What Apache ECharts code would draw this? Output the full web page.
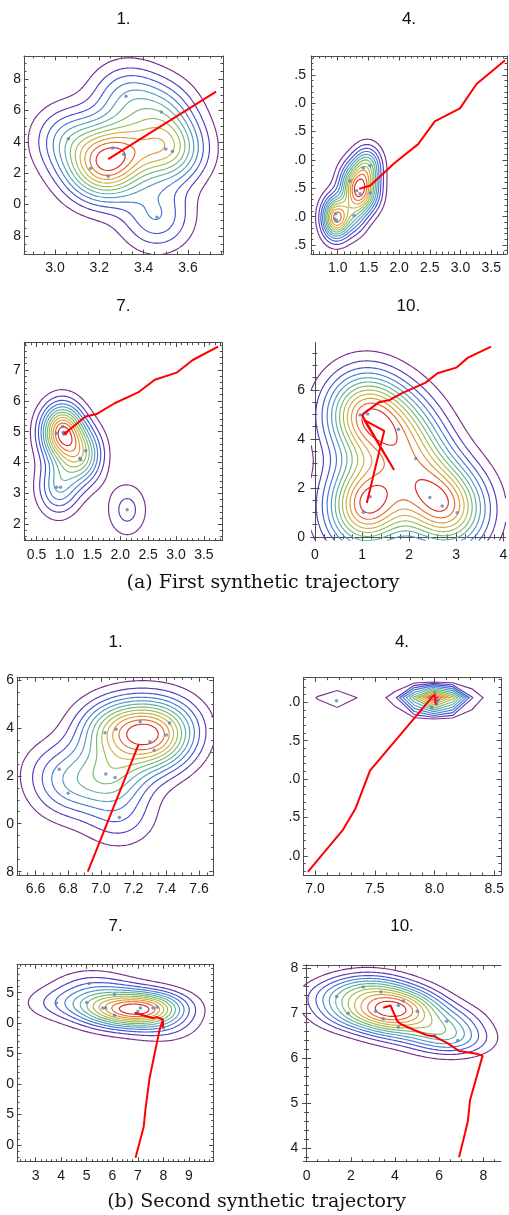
<!DOCTYPE html>
<html><head><meta charset="utf-8">
<script src="https://cdn.jsdelivr.net/npm/echarts@6/dist/echarts.min.js"></script>
<style>
html,body{margin:0;padding:0;background:#fff;}
body{width:509px;height:1215px;position:relative;overflow:hidden;}
.pane{position:absolute;overflow:hidden;}
</style></head><body>
<div id="bg" class="pane" style="left:0;top:0;width:509px;height:1215px"></div>
<script>
// ---------------- DATA ----------------
const panelTitles = ['1.', '4.', '7.', '10.', '1.', '4.', '7.', '10.'];
const captions = ['(a) First synthetic trajectory', '(b) Second synthetic trajectory'];

// particles: [x, y, weight]
const a1Particles = [[3.32,7.69,1],[3.48,7.59,1],[3.06,7.42,1],[3.26,7.36,1],[3.31,7.32,1],[3.50,7.355,1],[3.53,7.34,1],[3.16,7.23,1],[3.24,7.18,1],[3.46,6.92,1]];
const a1Path = [[3.727,7.72],[3.24,7.29]];
const a1XTicks = [3.0,3.2,3.4,3.6];
const a1YTicks = [6.8,7.0,7.2,7.4,7.6,7.8];

const a2Particles = [[1.417,5.857,1],[1.526,5.898,1],[1.2,5.634,1],[1.309,5.458,1],[1.363,5.405,1],[1.526,5.417,1],[0.967,5.053,1],[0.956,4.959,1],[0.984,4.93,1],[1.265,5.023,1]];
const a2Path = [[3.725,7.76],[3.26,7.34],[2.99,6.91],[2.58,6.68],[2.31,6.28],[1.93,5.95],[1.53,5.55],[1.35,5.49]];
const a2XTicks = [1.0,1.5,2.0,2.5,3.0,3.5];
const a2YTicks = [4.5,5.0,5.5,6.0,6.5,7.0,7.5];

const a3Particles = [[0.966,5.165,1],[0.858,4.95,1],[0.977,4.97,2],[0.99,4.92,1],[1.38,4.38,1],[1.276,4.14,1],[1.29,4.09,1],[0.858,3.2,1],[0.93,3.2,1],[2.124,2.47,1]];
const a3Path = [[3.755,7.75],[3.3,7.32],[3.01,6.91],[2.62,6.68],[2.32,6.27],[1.9,5.92],[1.575,5.57],[1.38,5.49],[1.01,4.95],[1.06,4.99],[0.99,4.97],[1.04,4.9]];
const a3XTicks = [0.5,1.0,1.5,2.0,2.5,3.0,3.5];
const a3YTicks = [2,3,4,5,6,7];

const a4Particles = [[0.955,4.98,1],[1.12,5.02,1],[1.77,4.39,1],[2.14,3.2,1],[2.44,1.61,0.85],[2.70,1.26,0.85],[3.02,0.98,0.85],[1.17,1.64,1.25],[1.026,1.0,1.25]];
const a4Path = [[3.74,7.77],[3.25,7.32],[3.0,6.91],[2.6,6.68],[2.35,6.3],[1.84,5.86],[1.59,5.59],[1.36,5.5],[1.0,4.98],[1.68,2.73],[1.04,4.78],[1.47,4.33],[1.1,1.38]];
const a4XTicks = [0,1,2,3,4];
const a4YTicks = [0,2,4,6];

const b1Particles = [[6.745,4.227,1],[6.8,4.127,1],[7.025,4.38,1],[7.093,4.394,1.5],[7.03,4.207,1],[7.087,4.193,1.3],[7.24,4.426,1.5],[7.30,4.342,1.2],[7.326,4.307,1],[7.42,4.42,1],[7.40,4.37,1],[7.113,4.026,1]];
const b1Path = [[6.92,3.80],[7.23,4.33]];
const b1XTicks = [6.6,6.8,7.0,7.2,7.4,7.6];
const b1YTicks = [3.8,4.0,4.2,4.4,4.6];

const b2Particles = [[8.003,6.125,1],[7.967,6.065,1],[8.017,6.02,1],[8.03,6.03,1],[8.017,5.98,1],[7.976,5.935,1],[7.89,5.90,1],[7.18,6.02,0.6]];
const b2Path = [[6.94,3.79],[7.23,4.33],[7.34,4.62],[7.46,5.11],[7.976,6.06],[8.0,6.1],[8.01,5.97]];
const b2XTicks = [7.0,7.5,8.0,8.5];
const b2YTicks = [4.0,4.5,5.0,5.5,6.0];

const b3Particles = [[3.81,6.33,1],[5.0,6.34,1],[5.09,6.65,1],[6.09,6.475,1],[5.63,6.25,1],[5.74,6.25,1],[6.09,6.13,1.5],[7.1,6.25,2],[7.0,6.19,2],[7.59,6.25,1.5],[7.75,6.26,1.5],[8.01,5.92,1]];
const b3Path = [[6.91,3.79],[7.23,4.30],[7.30,4.59],[7.46,5.10],[7.85,5.89],[7.98,6.05],[7.99,5.93],[7.98,6.06],[7.74,6.1],[7.6,6.08],[6.87,6.17]];
const b3XTicks = [3,4,5,6,7,8,9];
const b3YTicks = [4.0,4.5,5.0,5.5,6.0,6.5];

const b4Particles = [[1.36,7.37,1],[2.56,7.58,1],[1.88,7.0,1],[3.37,7.47,1],[3.12,7.04,1],[3.47,6.876,1],[4.15,7.17,1],[4.38,7.27,1],[5.01,7.04,1],[4.15,6.69,1],[5.81,6.5,1],[6.34,6.82,1],[6.84,6.39,1]];
const b4Path = [[6.9,3.8],[7.17,4.33],[7.3,4.6],[7.4,5.07],[7.93,5.99],[7.97,6.05],[7.7,6.1],[6.9,6.16],[6.4,6.33],[5.8,6.48],[5.45,6.51],[4.9,6.62],[4.25,6.76],[4.1,6.83],[3.8,7.17],[3.47,7.12]];
const b4XTicks = [0,2,4,6,8];
const b4YTicks = [4,5,6,7,8];

// ---------------- STYLE / LAYOUT ----------------
const FRAME = '#4d4d4d';
const LABEL = '#1a1a1a';
const RED = '#ff0000';
const DOT = '#5e81b5';
const NLEVELS = 12;
const contourStops = [[0,[123,45,142]],[0.1,[83,57,194]],[0.2,[63,92,214]],[0.32,[76,144,207]],[0.45,[96,176,160]],[0.55,[120,184,112]],[0.65,[168,188,80]],[0.75,[208,178,62]],[0.85,[228,142,50]],[0.93,[226,96,42]],[1,[218,42,36]]];

const panelDefs = [
  {parts:a1Particles, path:a1Path, xt:a1XTicks, yt:a1YTicks, xr:[2.86,3.758], yr:[6.685,7.947], xd:1, yd:1, xm:0.05, ym:0.05, box:[13,30,240,260], frame:[24,56,223,254], bw:[1,1], ym0:3, title:[123.5,19]},
  {parts:a2Particles, path:a2Path, xt:a2XTicks, yt:a2YTicks, xr:[0.565,3.756], yr:[4.342,7.834], xd:1, yd:1, xm:0.1, ym:0.1, box:[295,30,214,260], frame:[311,56,507,254], bw:[1,1], ym0:5, title:[409,19]},
  {parts:a3Particles, path:a3Path, xt:a3XTicks, yt:a3YTicks, xr:[0.28,3.83], yr:[1.47,7.88], xd:1, yd:0, xm:0.1, ym:0.2, box:[0,320,250,260], frame:[24.3,342.7,222.3,540.7], bw:[1,1], ym0:3.5, title:[123.3,306.7]},
  {parts:a4Particles, path:a4Path, xt:a4XTicks, yt:a4YTicks, xr:[-0.085,4.05], yr:[-0.16,7.93], xd:0, yd:0, xm:0.2, ym:0.5, box:[258,320,251,260], frame:[311,342.7,505.7,540.7], bw:[1.05,1], ym0:6, title:[408.3,306]},
  {parts:b1Particles, path:b1Path, xt:b1XTicks, yt:b1YTicks, xr:[6.487,7.69], yr:[3.786,4.611], xd:1, yd:1, xm:0.05, ym:0.05, box:[6.3,660,245,240], frame:[17.3,677.3,214,875], h:[0.155,0.088], ym0:3, title:[115.7,642.7]},
  {parts:b2Particles, path:b2Path, xt:b2XTicks, yt:b2YTicks, xr:[6.902,8.556], yr:[3.75,6.32], xd:1, yd:1, xm:0.1, ym:0.1, box:[289,660,220,240], frame:[303.3,677.7,501,875], h:[0.16,0.05], ym0:3, title:[402,642.7],
    gridX:[6.864,7.025,7.186,7.347,7.508,7.669,7.83,7.991,8.152,8.313,8.474,8.635],
    gridY:[3.66,3.96,4.26,4.56,4.86,5.16,5.46,5.76,6.06,6.28,6.5]},
  {parts:b3Particles, path:b3Path, xt:b3XTicks, yt:b3YTicks, xr:[2.27,9.97], yr:[3.726,6.966], xd:0, yd:1, xm:0.2, ym:0.1, box:[6.3,945,245,240], frame:[17.3,964.3,214,1161.7], h:[1.0,0.19], ym0:3, title:[115.7,926.7]},
  {parts:b4Particles, path:b4Path, xt:b4XTicks, yt:b4YTicks, xr:[-0.15,8.8], yr:[3.70,8.07], xd:0, yd:0, xm:0.5, ym:0.2, box:[258,945,251,240], frame:[303.3,965,501,1161.7], bw:[1.05,1.1], ym0:5, title:[402,926.7]}
];

// ---------------- helpers ----------------
function rampColor(t){
  for(let k=0;k<contourStops.length-1;k++){
    const [t0,c0]=contourStops[k],[t1,c1]=contourStops[k+1];
    if(t<=t1){const u=(t-t0)/(t1-t0);return 'rgb('+c0.map((v,i)=>Math.round(v+(c1[i]-v)*u)).join(',')+')';}
  }
  return 'rgb('+contourStops[contourStops.length-1][1].join(',')+')';
}
const levelColors = Array.from({length:NLEVELS},(_,i)=>rampColor(i/(NLEVELS-1)));

function bandwidth(parts, scale){
  let W=0,mx=0,my=0;
  parts.forEach(p=>{W+=p[2];mx+=p[2]*p[0];my+=p[2]*p[1];});
  mx/=W;my/=W;let vx=0,vy=0;
  parts.forEach(p=>{vx+=p[2]*(p[0]-mx)**2;vy+=p[2]*(p[1]-my)**2;});
  vx/=(W-1);vy/=(W-1);
  const f=Math.pow(W,-1/6);
  return [Math.sqrt(vx)*f*scale[0],Math.sqrt(vy)*f*scale[1]];
}
function density(parts,h,x,y){
  let s=0;
  for(const p of parts){const dx=(x-p[0])/h[0],dy=(y-p[1])/h[1];s+=p[2]*Math.exp(-0.5*(dx*dx+dy*dy));}
  return s;
}
function contour(xs,ys,g,L){
  const segs=[];const nx=xs.length,ny=ys.length;
  const ip=(a,b,va,vb)=>a+(b-a)*((L-va)/(vb-va));
  for(let j=0;j<ny-1;j++)for(let i=0;i<nx-1;i++){
    const v0=g[j][i],v1=g[j][i+1],v2=g[j+1][i+1],v3=g[j+1][i];
    const c=(v0>=L?1:0)|(v1>=L?2:0)|(v2>=L?4:0)|(v3>=L?8:0);
    if(c===0||c===15)continue;
    const x0=xs[i],x1=xs[i+1],y0=ys[j],y1=ys[j+1];
    const E=[
      ()=>['h'+i+'_'+j,[ip(x0,x1,v0,v1),y0]],
      ()=>['v'+(i+1)+'_'+j,[x1,ip(y0,y1,v1,v2)]],
      ()=>['h'+i+'_'+(j+1),[ip(x0,x1,v3,v2),y1]],
      ()=>['v'+i+'_'+j,[x0,ip(y0,y1,v0,v3)]]
    ];
    let pairs;const m=(v0+v1+v2+v3)/4;
    switch(c){
      case 1:pairs=[[3,0]];break;case 2:pairs=[[0,1]];break;case 3:pairs=[[3,1]];break;
      case 4:pairs=[[1,2]];break;case 6:pairs=[[0,2]];break;case 7:pairs=[[3,2]];break;
      case 8:pairs=[[2,3]];break;case 9:pairs=[[0,2]];break;case 11:pairs=[[1,2]];break;
      case 12:pairs=[[3,1]];break;case 13:pairs=[[0,1]];break;case 14:pairs=[[3,0]];break;
      case 5:pairs=m>=L?[[0,1],[2,3]]:[[3,0],[1,2]];break;
      case 10:pairs=m>=L?[[3,0],[1,2]]:[[0,1],[2,3]];break;
    }
    pairs.forEach(([a,b])=>segs.push([E[a](),E[b]()]));
  }
  const map=new Map();
  segs.forEach((s,k)=>{for(const e of [0,1]){const key=s[e][0];if(!map.has(key))map.set(key,[]);map.get(key).push(k);}});
  const used=new Array(segs.length).fill(false);const lines=[];
  for(let k=0;k<segs.length;k++){
    if(used[k])continue;used[k]=true;
    const pts=[segs[k][0][1],segs[k][1][1]];
    for(const dir of [1,0]){
      let key=segs[k][dir][0];
      while(true){
        const cand=(map.get(key)||[]).find(q=>!used[q]);
        if(cand===undefined)break;used[cand]=true;
        const s=segs[cand];const nxt=s[0][0]===key?s[1]:s[0];
        if(dir===1)pts.push(nxt[1]);else pts.unshift(nxt[1]);
        key=nxt[0];
      }
    }
    lines.push(pts);
  }
  return lines;
}
function ticksBetween(r,step){
  const out=[];const k0=Math.ceil(r[0]/step-1e-9),k1=Math.floor(r[1]/step+1e-9);
  for(let k=k0;k<=k1;k++)out.push(+(k*step).toFixed(6));
  return out;
}

// ---------------- background: titles and captions ----------------
const bg=echarts.init(document.getElementById('bg'));
const txt=(t,x,y,size,fam)=>({type:'text',x:x,y:y,silent:true,style:{text:t,fontSize:size,fontFamily:fam,fill:'#111',align:'center',verticalAlign:'middle',textAlign:'center',textVerticalAlign:'middle'}});
bg.setOption({animation:false,graphic:{elements:[
  ...panelDefs.map((p,i)=>txt(panelTitles[i],p.title[0],p.title[1],17,'Liberation Sans')),
  txt(captions[0],263,583,19,'DejaVu Serif'),
  txt(captions[1],256.5,1202,19,'DejaVu Serif')
]}});

// ---------------- panels ----------------
panelDefs.forEach(p=>{
  const dom=document.createElement('div');dom.className='pane';
  Object.assign(dom.style,{left:p.box[0]+'px',top:p.box[1]+'px',width:p.box[2]+'px',height:p.box[3]+'px'});
  document.body.appendChild(dom);
  const ch=echarts.init(dom);
  let xs,ys;
  if(p.gridX){xs=p.gridX;ys=p.gridY;}
  else{
    const N=130;
    xs=Array.from({length:N},(_,i)=>p.xr[0]+(p.xr[1]-p.xr[0])*i/(N-1));
    ys=Array.from({length:N},(_,j)=>p.yr[0]+(p.yr[1]-p.yr[0])*j/(N-1));
  }
  const h=p.h||bandwidth(p.parts,p.bw);
  const g=ys.map(y=>xs.map(x=>density(p.parts,h,x,y)));
  let mx=0;g.forEach(r=>r.forEach(v=>{if(v>mx)mx=v;}));
  const sets=levelColors.map((c,k)=>contour(xs,ys,g,mx*(k+1)/(NLEVELS+1)));

  const lab={show:true,color:LABEL,fontSize:14,fontFamily:'Liberation Sans'};
  const mkX=(pos,major,withLabel)=>({type:'value',min:p.xr[0],max:p.xr[1],splitLine:{show:false},position:pos,
    axisLine:{show:major,lineStyle:{color:FRAME,width:1}},
    axisTick:{show:true,inside:true,length:major?4.5:2.5,customValues:major?p.xt:ticksBetween(p.xr,p.xm),lineStyle:{color:FRAME,width:1}},
    axisLabel:withLabel?{...lab,customValues:p.xt,margin:7,formatter:v=>(+v).toFixed(p.xd)}:{show:false}});
  const mkY=(pos,major,withLabel)=>({type:'value',min:p.yr[0],max:p.yr[1],splitLine:{show:false},position:pos,
    axisLine:{show:major,lineStyle:{color:FRAME,width:1}},
    axisTick:{show:true,inside:true,length:major?4.5:2.5,customValues:major?p.yt:ticksBetween(p.yr,p.ym),lineStyle:{color:FRAME,width:1}},
    axisLabel:withLabel?{...lab,customValues:p.yt,margin:p.ym0,formatter:v=>(+v).toFixed(p.yd)}:{show:false}});

  ch.setOption({
    animation:false,
    grid:{left:p.frame[0]-p.box[0],top:p.frame[1]-p.box[1],width:p.frame[2]-p.frame[0],height:p.frame[3]-p.frame[1],containLabel:false,outerBoundsMode:'none'},
    xAxis:[mkX('bottom',true,true),mkX('bottom',false,false),mkX('top',true,false),mkX('top',false,false)],
    yAxis:[mkY('left',true,true),mkY('left',false,false),mkY('right',true,false),mkY('right',false,false)],
    series:[
      {type:'custom',xAxisIndex:0,yAxisIndex:0,clip:true,silent:true,z:2,
       data:sets.map((s,i)=>[p.xr[0],p.yr[0],i]),encode:{x:0,y:1},
       renderItem:(params,api)=>{
         const li=params.dataIndex;
         return {type:'group',children:sets[li].map(pl=>({type:'polyline',silent:true,
           shape:{points:pl.map(pt=>api.coord(pt))},
           style:{stroke:levelColors[li],lineWidth:1.15,fill:null}}))};
       }},
      {type:'scatter',xAxisIndex:0,yAxisIndex:0,symbolSize:3.5,silent:true,z:3,
       itemStyle:{color:DOT},data:p.parts.map(q=>[q[0],q[1]])},
      {type:'line',xAxisIndex:0,yAxisIndex:0,showSymbol:false,symbol:'none',silent:true,z:4,clip:true,
       lineStyle:{color:RED,width:2},data:p.path}
    ]
  });
});
</script>
</body></html>
